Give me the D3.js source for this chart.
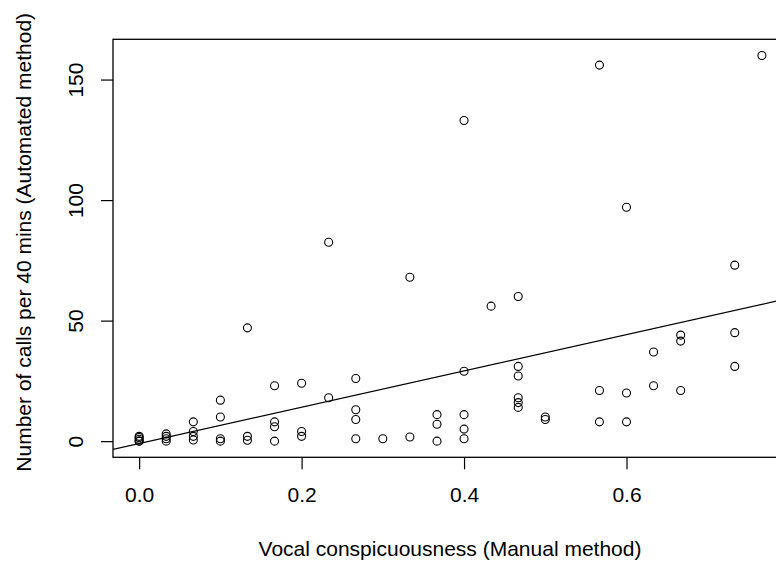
<!DOCTYPE html>
<html>
<head>
<meta charset="utf-8">
<script src="https://cdn.jsdelivr.net/npm/d3@7"></script>
<style>
  body { margin: 0; background: #fff; }
  svg { display: block; font-family: "Liberation Sans", Arial, sans-serif; }
</style>
</head>
<body>
<div id="chart"></div>
<script>
// manual conspicuousness (fraction of 30 intervals) and automated call counts
const manualScore = [
  0, 0, 0, 0, 0,
  0.0333, 0.0333, 0.0333, 0.0333,
  0.0667, 0.0667, 0.0667, 0.0667,
  0.1, 0.1, 0.1, 0.1,
  0.1333, 0.1333, 0.1333,
  0.1667, 0.1667, 0.1667, 0.1667,
  0.2, 0.2, 0.2,
  0.2333, 0.2333,
  0.2667, 0.2667, 0.2667, 0.2667,
  0.3,
  0.3333, 0.3333,
  0.3667, 0.3667, 0.3667,
  0.4, 0.4, 0.4, 0.4, 0.4,
  0.4333,
  0.4667, 0.4667, 0.4667, 0.4667, 0.4667, 0.4667,
  0.5, 0.5,
  0.5667, 0.5667, 0.5667,
  0.6, 0.6, 0.6,
  0.6333, 0.6333,
  0.6667, 0.6667, 0.6667,
  0.7333, 0.7333, 0.7333,
  0.7667
];
const callCount = [
  0, 0, 0.8, 1.5, 2,
  0, 1, 2, 3,
  8, 4, 2, 0.5,
  17, 10, 1, 0,
  47, 2, 0.4,
  23, 8, 6, 0,
  24, 4, 2,
  82.5, 18,
  26, 13, 9, 1,
  1,
  68, 1.7,
  11, 7, 0,
  133, 29, 11, 5, 1,
  56,
  60, 31, 27, 18, 16, 14,
  10, 9,
  156, 21, 8,
  97, 20, 8,
  37, 23,
  44, 41.5, 21,
  73, 45, 31,
  160
];

// fitted line
const fitIntercept = -1.0;
const fitSlope = 75.3;

const xTicks = [0, 0.2, 0.4, 0.6];
const yTicks = [0, 50, 100, 150];

const xTitle = "Vocal conspicuousness (Manual method)";
const yTitle = "Number of calls per 40 mins (Automated method)";

const width = 776;
const height = 563;
const plotLeft = 113;
const plotRight = 819;
const plotTop = 39.3;
const plotBottom = 457.3;
const fontSize = 21;

const x = d3.scaleLinear()
  .domain([-0.0322, 0.837])
  .range([plotLeft, plotRight]);

const y = d3.scaleLinear()
  .domain([-6.7, 166.7])
  .range([plotBottom, plotTop]);

const svg = d3.select("#chart").append("svg")
  .attr("width", width)
  .attr("height", height);

svg.append("rect")
  .attr("width", width)
  .attr("height", height)
  .attr("fill", "#fff");

svg.append("clipPath")
  .attr("id", "plot-clip")
  .append("rect")
  .attr("x", plotLeft)
  .attr("y", plotTop)
  .attr("width", plotRight - plotLeft)
  .attr("height", plotBottom - plotTop);

// x axis
const gx = svg.append("g")
  .attr("transform", `translate(0,${plotBottom})`)
  .call(d3.axisBottom(x)
    .tickValues(xTicks)
    .tickFormat(d3.format(".1f"))
    .tickSize(12)
    .tickPadding(18));
gx.select(".domain").remove();
gx.selectAll("line").attr("stroke", "#000").attr("stroke-width", 1.2);
gx.selectAll("text")
  .attr("fill", "#000")
  .style("font-size", fontSize + "px")
  .style("font-family", "'Liberation Sans', Arial, sans-serif");

// y axis, labels parallel to the axis as in base R
const gy = svg.append("g")
  .attr("transform", `translate(${plotLeft},0)`)
  .call(d3.axisLeft(y)
    .tickValues(yTicks)
    .tickSize(12));
gy.select(".domain").remove();
gy.selectAll("line").attr("stroke", "#000").attr("stroke-width", 1.2);
gy.selectAll("text")
  .attr("x", null)
  .attr("dy", null)
  .attr("text-anchor", "middle")
  .attr("transform", "translate(-30,0) rotate(-90)")
  .attr("fill", "#000")
  .style("font-size", fontSize + "px")
  .style("font-family", "'Liberation Sans', Arial, sans-serif");

// regression line
const plot = svg.append("g").attr("clip-path", "url(#plot-clip)");
const xExt = x.domain();
plot.append("line")
  .attr("x1", x(xExt[0]))
  .attr("y1", y(fitIntercept + fitSlope * xExt[0]))
  .attr("x2", x(xExt[1]))
  .attr("y2", y(fitIntercept + fitSlope * xExt[1]))
  .attr("stroke", "#000")
  .attr("stroke-width", 1.2);

// points
plot.selectAll("circle")
  .data(manualScore.map((d, i) => [d, callCount[i]]))
  .join("circle")
  .attr("cx", d => x(d[0]))
  .attr("cy", d => y(d[1]))
  .attr("r", 4)
  .attr("fill", "none")
  .attr("stroke", "#000")
  .attr("stroke-width", 1.1);

// plot frame
svg.append("rect")
  .attr("x", plotLeft)
  .attr("y", plotTop)
  .attr("width", plotRight - plotLeft)
  .attr("height", plotBottom - plotTop)
  .attr("fill", "none")
  .attr("stroke", "#000")
  .attr("stroke-width", 1.3);

// axis titles
svg.append("text")
  .attr("x", 450)
  .attr("y", 556)
  .attr("text-anchor", "middle")
  .style("font-size", fontSize + "px")
  .text(xTitle);

svg.append("text")
  .attr("transform", `translate(31,${(plotTop + plotBottom) / 2 - 6}) rotate(-90)`)
  .attr("text-anchor", "middle")
  .style("font-size", fontSize + "px")
  .text(yTitle);
</script>
</body>
</html>
